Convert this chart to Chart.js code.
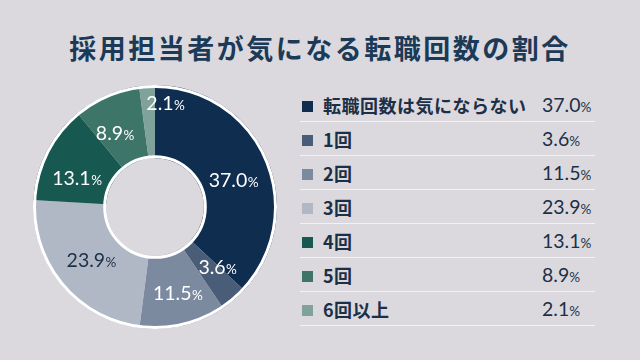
<!DOCTYPE html>
<html><head><meta charset="utf-8">
<script src="https://cdn.jsdelivr.net/npm/chart.js@4/dist/chart.umd.min.js"></script>
<style>
html,body{margin:0;padding:0;}
body{width:640px;height:360px;background:#dcd9de;position:relative;overflow:hidden;font-family:"Noto Sans CJK JP",sans-serif;}
#title{position:absolute;left:0;top:30px;width:640px;text-align:center;font-size:27px;font-weight:700;letter-spacing:2.5px;color:#1b3a57;line-height:36px;}
#wrap{position:absolute;left:33px;top:85px;width:244px;height:244px;}
#legend{position:absolute;left:300px;top:88px;width:295px;}
.row{height:34px;border-bottom:1px solid #f2f1f4;position:relative;box-sizing:border-box;}
.sw{position:absolute;left:2px;top:13px;width:11px;height:11px;}
.lb{position:absolute;left:23px;top:4px;font-size:18px;font-weight:600;color:#1b3047;line-height:26px;letter-spacing:0.5px;}
.vl{position:absolute;left:242px;top:4px;font-family:Lato,sans-serif;font-size:19.5px;color:#1b3047;line-height:26px;}
.vl small{font-size:13.5px;}
</style></head>
<body>
<div id="title">採用担当者が気になる転職回数の割合</div>
<div id="wrap"><canvas id="c" width="244" height="244"></canvas></div>
<div id="legend"></div>
<script>
const categories = ["転職回数は気にならない","1回","2回","3回","4回","5回","6回以上"];
const values = [37.0, 3.6, 11.5, 23.9, 13.1, 8.9, 2.1];
const colors = ["#0f2d4f","#4a5d78","#7c8aa0","#b0b8c6","#175850","#3d7569","#7fa39b"];
const labelColors = ["#ffffff","#ffffff","#ffffff","#1b3047","#ffffff","#ffffff","#ffffff"];

const lg = document.getElementById('legend');
categories.forEach((c,i)=>{
  const r = document.createElement('div'); r.className='row';
  r.innerHTML = '<span class="sw" style="background:'+colors[i]+'"></span><span class="lb">'+c+'</span><span class="vl">'+values[i].toFixed(1)+'<small>%</small></span>';
  lg.appendChild(r);
});

const ringPlugin = {
  id:'ring',
  afterDatasetsDraw(chart, args, opts){
    const ctx = chart.ctx;
    const meta = chart.getDatasetMeta(0);
    const a = meta.data[0];
    const p = a.getProps(['x','y','innerRadius','outerRadius'], true);
    ctx.save();
    ctx.strokeStyle = '#ffffff';
    ctx.lineWidth = 3;
    ctx.beginPath(); ctx.arc(p.x, p.y, p.outerRadius-1.5, 0, Math.PI*2); ctx.stroke();
    ctx.beginPath(); ctx.arc(p.x, p.y, p.innerRadius+1.5, 0, Math.PI*2); ctx.stroke();
    ctx.textBaseline = 'alphabetic';
    meta.data.forEach((el,i)=>{
      const pt = el.getCenterPoint();
      const n = opts.nudge[i] || [0,0];
      const num = values[i].toFixed(1);
      ctx.font = '19.5px Lato';
      const w1 = ctx.measureText(num).width;
      ctx.font = '13.5px Lato';
      const w2 = ctx.measureText('%').width;
      const x0 = pt.x + n[0] - (w1+w2)/2;
      const y0 = pt.y + n[1] + 7;
      ctx.fillStyle = labelColors[i];
      ctx.textAlign = 'left';
      ctx.font = '19.5px Lato';
      ctx.fillText(num, x0, y0);
      ctx.font = '13.5px Lato';
      ctx.fillText('%', x0 + w1 + 0.5, y0);
    });
    ctx.restore();
  }
};

new Chart(document.getElementById('c'), {
  type:'doughnut',
  data:{labels:categories, datasets:[{data:values, backgroundColor:colors, borderWidth:0}]},
  options:{
    responsive:false, animation:false, cutout:'40%',
    layout:{padding:0},
    plugins:{legend:{display:false}, tooltip:{enabled:false},
      ring:{nudge:[[0,7],[7,-5],[3,3],[2,-1],[-2,10],[-6,4],[16,-19]]}}
  },
  plugins:[ringPlugin]
});
</script>
</body></html>
